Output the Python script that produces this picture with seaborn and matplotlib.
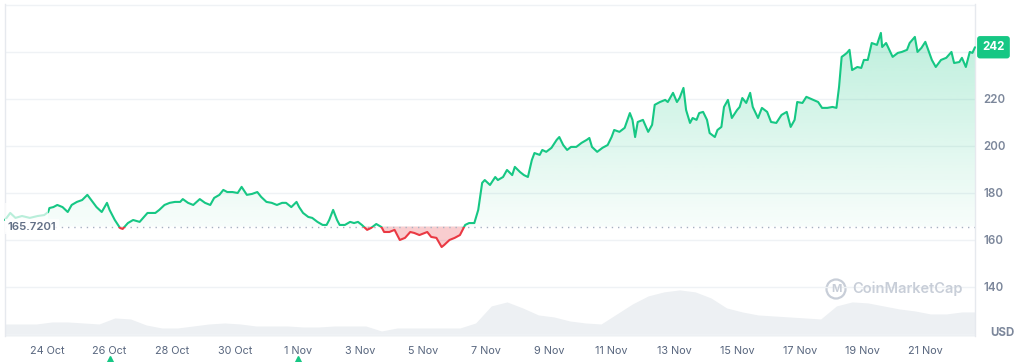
import numpy as np
import pandas as pd
import matplotlib
matplotlib.use("Agg")
import matplotlib.pyplot as plt
import matplotlib.dates as mdates
from matplotlib.patches import Rectangle, Ellipse
import seaborn as sns

# ---------------- data ----------------
START = pd.Timestamp("2024-10-24 00:00")
hours = [
    -32, -28, -24, -19, -13, -7, -2, 1, 2, 5,
    8, 12, 16, 19, 23, 27, 31, 34, 38, 42,
    46, 48, 52, 56, 58, 62, 66, 71, 77, 83,
    86, 90, 94, 98, 102, 104, 108, 112, 117, 121,
    125, 128, 132, 135, 138, 142, 146, 149, 153, 157,
    161, 164, 168, 172, 176, 180, 183, 187, 191, 193,
    196, 200, 203, 207, 211, 214, 216, 219, 222, 224,
    228, 232, 235, 238, 241, 245, 248, 252, 256, 258,
    262, 266, 270, 274, 278, 281, 285, 291, 294, 298,
    302, 304, 308, 312, 316, 320, 323, 327, 330, 333,
    335, 339, 343, 345, 349, 352, 356, 358, 362, 365,
    368, 371, 373, 377, 379, 382, 386, 390, 392, 395,
    398, 401, 405, 409, 413, 415, 417, 421, 425, 429,
    432, 434, 438, 442, 446, 448, 450, 452, 456, 460,
    463, 465, 469, 473, 475, 479, 482, 484, 487, 489,
    492, 494, 497, 499, 502, 505, 507, 511, 513, 516,
    518, 521, 524, 528, 530, 532, 535, 538, 540, 544,
    547, 551, 554, 558, 562, 566, 569, 572, 574, 578,
    581, 583, 586, 590, 593, 597, 601, 604, 606, 608,
    610, 612, 614, 616, 620, 623, 625, 628, 631, 635,
    638, 639, 642, 647, 651, 654, 658, 660, 664, 666,
    669, 672, 677, 680, 684, 688, 692, 694, 698, 700,
    703, 706, 708, 710,
]
prices = [
    168.5, 171.5, 169.4, 170.2, 169.4, 170.2, 170.6, 171.9, 173.6, 174.0,
    174.9, 174.0, 171.9, 174.9, 176.2, 177.0, 179.2, 177.0, 174.0, 171.9,
    175.8, 172.8, 168.5, 165.1, 164.7, 167.2, 168.5, 167.7, 171.5, 171.5,
    172.8, 174.9, 175.8, 176.2, 176.2, 177.4, 175.8, 174.9, 177.4, 175.8,
    174.9, 177.9, 179.2, 181.3, 180.4, 180.4, 180.0, 182.6, 179.2, 179.6,
    180.4, 178.3, 176.2, 175.8, 174.9, 175.8, 175.8, 174.0, 176.2, 174.0,
    171.5, 169.8, 169.4, 167.7, 166.4, 166.4, 168.5, 172.8, 168.5, 166.4,
    166.4, 167.7, 167.2, 167.7, 166.4, 164.3, 165.1, 166.8, 165.5, 163.4,
    163.4, 164.3, 160.0, 160.9, 163.4, 163.0, 162.1, 163.4, 161.3, 160.9,
    157.0, 157.9, 160.0, 160.9, 162.1, 166.4, 167.2, 167.2, 172.8, 184.3,
    185.5, 183.4, 186.8, 185.5, 186.8, 189.8, 187.6, 191.1, 188.9, 187.6,
    186.8, 194.0, 197.0, 196.2, 198.3, 197.5, 199.2, 202.6, 203.8, 200.4,
    198.3, 199.6, 199.6, 201.3, 202.6, 203.4, 199.6, 197.5, 199.2, 200.4,
    203.8, 206.8, 206.0, 207.7, 214.0, 211.1, 203.8, 210.2, 211.1, 206.0,
    209.0, 217.5, 218.7, 219.6, 218.7, 222.6, 218.7, 220.4, 224.7, 215.3,
    209.8, 211.9, 211.1, 214.0, 214.5, 211.1, 205.5, 203.8, 206.8, 208.1,
    216.6, 219.6, 211.9, 215.3, 216.6, 220.4, 218.3, 222.6, 216.6, 211.9,
    216.2, 214.5, 210.2, 209.8, 213.2, 214.5, 208.1, 211.1, 218.7, 218.3,
    220.9, 220.4, 219.6, 218.7, 216.2, 216.2, 216.6, 216.2, 225.1, 237.9,
    238.7, 239.6, 240.9, 232.3, 233.6, 233.2, 236.6, 236.6, 243.8, 243.0,
    248.1, 242.1, 243.8, 237.9, 239.6, 240.0, 240.9, 243.8, 246.4, 240.0,
    241.7, 244.3, 236.6, 233.6, 236.6, 237.5, 240.0, 235.3, 235.7, 237.5,
    233.6, 240.0, 239.6, 242.0,
]
vol_hours = list(range(-32, 713, 12))
volume = [
    12, 12, 12, 14, 14, 13, 12, 18, 17, 11,
    8, 8, 10, 12, 13, 12, 10, 10, 10, 9,
    9, 10, 10, 10, 5, 8, 8, 8, 8, 8,
    13, 30, 34, 28, 21, 19, 15, 13, 12, 22,
    32, 40, 44, 46, 44, 38, 28, 24, 21, 20,
    19, 18, 17, 30, 34, 33, 30, 27, 25, 22,
    22, 24, 24,
]
baseline = 165.7201
last_price = "242"
tick_dates = ["2024-10-24", "2024-10-26", "2024-10-28", "2024-10-30",
              "2024-11-01", "2024-11-03", "2024-11-05", "2024-11-07",
              "2024-11-09", "2024-11-11", "2024-11-13", "2024-11-15",
              "2024-11-17", "2024-11-19", "2024-11-21"]
tick_labels = ["24 Oct", "26 Oct", "28 Oct", "30 Oct", "1 Nov", "3 Nov",
               "5 Nov", "7 Nov", "9 Nov", "11 Nov", "13 Nov", "15 Nov",
               "17 Nov", "19 Nov", "21 Nov"]
y_ticks = [140, 160, 180, 200, 220]
grid_levels = [120, 140, 160, 180, 200, 220, 240, 260]
event_hours = [48, 192]

# ---------------- style ----------------
GREEN = "#16c784"
RED = "#ea3943"
GRID = "#eff2f5"
LABEL = "#58667e"

sns.set_theme(style="white")
plt.rcParams["font.family"] = ["Inter", "DejaVu Sans"]

times = [START + pd.Timedelta(hours=h) for h in hours]
vtimes = [START + pd.Timedelta(hours=h) for h in vol_hours]
df = pd.DataFrame({"time": times, "price": prices})
tn = mdates.date2num(df["time"])
pr = np.array(prices)

fig = plt.figure(figsize=(10.24, 3.62), dpi=100)
fig.patch.set_facecolor("white")
ax = fig.add_axes([5 / 1024, 26 / 362, 970 / 1024, 332 / 362])
axv = ax.twinx()
ax.set_zorder(2)
axv.set_zorder(1)
ax.patch.set_visible(False)

# volume area
axv.fill_between(mdates.date2num(vtimes), volume, 0, color="#edf0f3", lw=0)
axv.set_ylim(0, max(volume) * 7.2)
axv.set_yticks([])
for s in axv.spines.values():
    s.set_visible(False)

# gridlines
for g in grid_levels:
    ax.axhline(g, color=GRID, lw=1, zorder=0)

# gradient fill above baseline
ymin, ymax = 119.15, 260.4
rgb = matplotlib.colors.to_rgb(GREEN)
grad = np.zeros((256, 1, 4))
grad[..., 0], grad[..., 1], grad[..., 2] = rgb
grad[:, 0, 3] = np.linspace(0.28, 0.03, 256)
im = ax.imshow(grad, aspect="auto", extent=[tn[0], tn[-1], baseline, pr.max()],
               origin="upper", zorder=1, interpolation="bilinear")
poly = ax.fill_between(tn, pr, baseline, color="none", lw=0)
im.set_clip_path(poly.get_paths()[0], ax.transData)

# red fill below baseline
ax.fill_between(tn, pr, baseline, where=pr < baseline, interpolate=True,
                color=RED, alpha=0.25, lw=0, zorder=1)

# baseline dotted
ax.axhline(baseline, color="#a7b1c2", lw=1, ls=(0, (1, 3.5)), zorder=2)

# price lines (green above baseline, red below)
sns.lineplot(data=df, x="time", y="price", ax=ax, color=GREEN, lw=1.5, zorder=4)
sns.lineplot(data=df, x="time", y="price", ax=ax, color=RED, lw=1.5, zorder=4)
green_line, red_line = ax.lines[-2], ax.lines[-1]
big = 1e4
clip_up = Rectangle((tn[0] - 10, baseline), 100, big, transform=ax.transData)
clip_dn = Rectangle((tn[0] - 10, baseline - big), 100, big, transform=ax.transData)
green_line.set_clip_path(clip_up)
red_line.set_clip_path(clip_dn)

ax.set_xlim(tn[0], tn[-1])
ax.set_ylim(ymin, ymax)
axv.set_xlim(tn[0], tn[-1])
ax.set_xlabel("")
ax.set_ylabel("")

# faded overlay on the first hours (under the baseline label)
fade_end = mdates.date2num(START + pd.Timedelta(hours=1))
ax.add_patch(Rectangle((tn[0], baseline - 2.5), fade_end - tn[0], 12.5,
                       transform=ax.transData, fc="white", ec="none",
                       alpha=0.7, zorder=5))

# x ticks
ax.set_xticks(mdates.date2num(pd.to_datetime(tick_dates)))
ax.set_xticklabels(tick_labels)
ax.tick_params(axis="x", length=0, pad=7, labelsize=7.8, labelcolor=LABEL)

# y ticks on right
ax.yaxis.tick_right()
ax.set_yticks(y_ticks)
ax.set_yticklabels([str(v) for v in y_ticks])
ax.tick_params(axis="y", length=0, pad=6, labelsize=8.3, labelcolor="#7c879b")
for lab in ax.get_yticklabels():
    lab.set_fontweight("semibold")

for name, s in ax.spines.items():
    s.set_visible(name in ("left", "right"))
    s.set_color("#e6e9ee")
    s.set_linewidth(1)

# USD label
ax.text(1.016, 0.01, "USD", transform=ax.transAxes, ha="left", va="center",
        fontsize=8.3, fontweight="bold", color="#7c879b")

# last price badge
ax.text(1.0075, (242 - ymin) / (ymax - ymin), last_price, transform=ax.transAxes,
        ha="left", va="center", fontsize=8.3, fontweight="bold", color="white",
        bbox=dict(boxstyle="round,pad=0.45,rounding_size=0.25", fc=GREEN, ec="none"),
        zorder=10, clip_on=False)

# baseline label
ax.text(0.003, baseline, "165.7201", transform=ax.get_yaxis_transform(),
        ha="left", va="center", fontsize=8.2, fontweight="semibold", color="#616e85",
        bbox=dict(boxstyle="square,pad=0.25", fc="white", ec="none", alpha=0.8),
        zorder=6)

# event markers
ev = mdates.date2num([START + pd.Timedelta(hours=h) for h in event_hours])
ax.plot(ev, [-0.075] * len(ev), ls="none", marker="^", ms=7, color=GREEN,
        transform=ax.get_xaxis_transform(), clip_on=False, zorder=10)

# watermark
fig.add_artist(Ellipse((836 / 1024, 1 - 289 / 362), 19 / 1024, 19 / 362,
                       transform=fig.transFigure, fill=False, ec="#c8ced8", lw=1.6))
fig.text(836 / 1024, 1 - 289.5 / 362, "M", ha="center", va="center",
         fontsize=8, fontweight="bold", color="#c8ced8")
fig.text(852 / 1024, 1 - 289 / 362, "CoinMarketCap", ha="left", va="center",
         fontsize=10.5, fontweight="semibold", color="#c8ced8")

fig.savefig("out.png", dpi=100, facecolor="white")
